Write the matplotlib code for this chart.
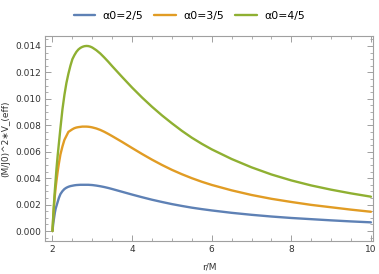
import matplotlib
matplotlib.use("Agg")
import matplotlib.pyplot as plt
from matplotlib.ticker import MultipleLocator, FormatStrFormatter

r = [2.0, 2.02, 2.04, 2.06, 2.08, 2.1, 2.13, 2.16, 2.2, 2.25, 2.3, 2.35, 2.4, 2.45,
     2.5, 2.55, 2.6, 2.65, 2.7, 2.75, 2.8, 2.85, 2.9, 2.95, 3.0, 3.1, 3.2, 3.3, 3.4,
     3.5, 3.75, 4.0, 4.25, 4.5, 4.75, 5.0, 5.25, 5.5, 5.75, 6.0, 6.5, 7.0, 7.5, 8.0,
     8.5, 9.0, 9.5, 10.0]

v_2_5 = [0, 0.0006, 0.001, 0.0014, 0.0017, 0.0019, 0.0022, 0.0025, 0.0028, 0.00302,
         0.00318, 0.00328, 0.00335, 0.0034, 0.00343, 0.00346, 0.00348, 0.00349, 0.0035,
         0.0035, 0.0035, 0.0035, 0.0035, 0.00349, 0.00348, 0.00344, 0.00339, 0.00333,
         0.00326, 0.00318, 0.00297, 0.00276, 0.00256, 0.00237, 0.0022, 0.00204, 0.0019,
         0.00177, 0.00166, 0.00156, 0.00138, 0.00123, 0.0011, 0.00099, 0.0009, 0.00081,
         0.00073, 0.00066]
v_3_5 = [0, 0.0011, 0.0020, 0.0027, 0.0033, 0.0038, 0.0045, 0.0051, 0.0058, 0.0064,
         0.0069, 0.0072, 0.0075, 0.0076, 0.0077, 0.00778, 0.00783, 0.00786, 0.00788,
         0.0079, 0.0079, 0.0079, 0.00789, 0.00787, 0.00784, 0.00776, 0.00765, 0.00751,
         0.00735, 0.00718, 0.00674, 0.00628, 0.00583, 0.0054, 0.005, 0.00463, 0.0043,
         0.004, 0.00373, 0.00349, 0.00308, 0.00273, 0.00244, 0.0022, 0.00198, 0.0018,
         0.00162, 0.00146]
v_4_5 = [0, 0.0012, 0.0022, 0.0031, 0.0039, 0.0047, 0.0057, 0.0066, 0.0078, 0.0092,
         0.0103, 0.0112, 0.0119, 0.0125, 0.0130, 0.0133, 0.01355, 0.01373, 0.01385,
         0.01393, 0.01398, 0.0140, 0.01399, 0.01395, 0.01388, 0.01368, 0.01343, 0.01313,
         0.01281, 0.01247, 0.01165, 0.01085, 0.0101, 0.0094, 0.00875, 0.00815, 0.00758,
         0.00706, 0.0066, 0.00618, 0.00545, 0.00482, 0.00428, 0.00383, 0.00345, 0.00313,
         0.00285, 0.0026]

labels = ["α0=2/5", "α0=3/5", "α0=4/5"]
colors = ["#5E81B5", "#E19C24", "#8FB032"]
series = [v_2_5, v_3_5, v_4_5]

fig = plt.figure(figsize=(3.79, 2.74), dpi=100)
ax = fig.add_axes([0.120, 0.120, 0.864, 0.749])

for vals, lab, c in zip(series, labels, colors):
    ax.plot(r, vals, color=c, lw=1.7, label=lab, solid_capstyle="round",
            solid_joinstyle="round")

ax.set_xlim(1.824, 10.05)
ax.set_ylim(-0.00076, 0.01476)

ax.xaxis.set_major_locator(MultipleLocator(2))
ax.xaxis.set_minor_locator(MultipleLocator(0.5))
ax.yaxis.set_major_locator(MultipleLocator(0.002))
ax.yaxis.set_minor_locator(MultipleLocator(0.0005))
ax.yaxis.set_major_formatter(FormatStrFormatter("%.3f"))

fc = "#A0A0A0"
for s in ax.spines.values():
    s.set_color(fc)
    s.set_linewidth(0.8)
ax.tick_params(which="both", direction="in", top=True, right=True, color=fc,
               labelsize=6.5, labelcolor="#333333", pad=3)
ax.tick_params(which="major", length=4, width=0.7)
ax.tick_params(which="minor", length=2.2, width=0.6)

ax.set_xlabel("r/M", fontsize=6.5, color="#333333", labelpad=6)
ax.set_ylabel("(M/J0)^2∗V_(eff)", fontsize=6.5, color="#333333", labelpad=4)

leg = fig.legend(loc="center", bbox_to_anchor=(0.499, 0.942), ncol=3, frameon=False,
                 fontsize=7.8, handlelength=2.0, columnspacing=1.05, handletextpad=0.65)

fig.savefig("out.png", dpi=100)
